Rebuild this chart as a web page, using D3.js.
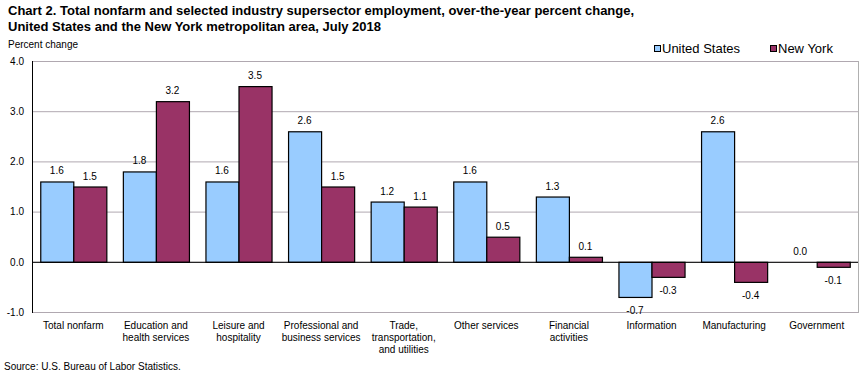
<!DOCTYPE html>
<html>
  <head>
    <meta charset="utf-8">
    <script src="https://d3js.org/d3.v7.min.js"></script>
    <style>
      body { margin: 0; background: #fff; }
      text { font-family: "Liberation Sans", Arial, sans-serif; fill: #000; }
    </style>
  </head>
  <body>
    <div id="chart"></div>
    <script>
      // Data
      const categories = [
        ["Total nonfarm"],
        ["Education and", "health services"],
        ["Leisure and", "hospitality"],
        ["Professional and", "business services"],
        ["Trade,", "transportation,", "and utilities"],
        ["Other services"],
        ["Financial", "activities"],
        ["Information"],
        ["Manufacturing"],
        ["Government"]
      ];
      const unitedStates = [1.6, 1.8, 1.6, 2.6, 1.2, 1.6, 1.3, -0.7, 2.6, 0.0];
      const newYork = [1.5, 3.2, 3.5, 1.5, 1.1, 0.5, 0.1, -0.3, -0.4, -0.1];
      const seriesNames = ["United States", "New York"];
      const colors = ["#99ccff", "#993366"];
      const yTicks = [-1, 0, 1, 2, 3, 4];

      const W = 861, H = 372;
      const margin = { left: 32, right: 858, top: 61, bottom: 312 };

      // plain hyphen for negatives, one decimal
      const fmt = v => v.toFixed(1);

      const svg = d3.select("#chart").append("svg")
        .attr("width", W).attr("height", H);

      // Title
      svg.append("text").attr("x", 8).attr("y", 15)
        .style("font-size", "13px").style("font-weight", "bold")
        .text("Chart 2. Total nonfarm and selected industry supersector employment, over-the-year percent change,");
      svg.append("text").attr("x", 8).attr("y", 31)
        .style("font-size", "13px").style("font-weight", "bold")
        .text("United States and the New York metropolitan area, July 2018");
      svg.append("text").attr("x", 8).attr("y", 48)
        .style("font-size", "10px").text("Percent change");

      // Scales
      const x0 = d3.scaleBand().domain(d3.range(categories.length))
        .range([margin.left, margin.right]);
      const x = d3.scaleBand().domain(d3.range(categories.length))
        .range([margin.left, margin.right]).paddingInner(0.2).paddingOuter(0.1);
      const y = d3.scaleLinear().domain([-1, 4]).range([margin.bottom, margin.top]);
      const xs = d3.scaleBand().domain([0, 1]).range([0, x.bandwidth()]);

      // Grid lines
      svg.append("g").selectAll("line").data(yTicks).join("line")
        .attr("x1", margin.left).attr("x2", margin.right)
        .attr("y1", d => y(d) + 0.5).attr("y2", d => y(d) + 0.5)
        .attr("stroke", "#b0a8b0").attr("stroke-width", 1);
      svg.append("line").attr("x1", margin.right + 0.5).attr("x2", margin.right + 0.5)
        .attr("y1", margin.top).attr("y2", margin.bottom + 1).attr("stroke", "#b0b0b0");

      // Y axis
      const yAxis = svg.append("g").attr("transform", `translate(${margin.left},0)`)
        .call(d3.axisLeft(y).tickValues(yTicks).tickFormat(fmt).tickSize(0).tickPadding(8));
      yAxis.select(".domain").remove();
      yAxis.selectAll("text").style("font-size", "10px").style("font-family", "Liberation Sans, Arial, sans-serif");
      svg.append("line").attr("x1", margin.left + 0.5).attr("x2", margin.left + 0.5)
        .attr("y1", margin.top).attr("y2", margin.bottom + 1).attr("stroke", "#000");

      // Bars
      const rows = categories.map((c, i) => [unitedStates[i], newYork[i]]);
      const groups = svg.append("g").selectAll("g").data(rows).join("g")
        .attr("transform", (d, i) => `translate(${x(i)},0)`);
      groups.selectAll("rect").data(d => d.map((v, s) => ({ v, s }))).join("rect")
        .attr("x", d => xs(d.s) + 0.5)
        .attr("y", d => Math.min(y(d.v), y(0)) + 0.5)
        .attr("width", xs.bandwidth())
        .attr("height", d => Math.abs(y(d.v) - y(0)))
        .attr("fill", d => colors[d.s])
        .attr("stroke", "#000").attr("stroke-width", d => d.v === 0 ? 0 : 1.2);

      // Zero line
      svg.append("line").attr("x1", margin.left).attr("x2", margin.right)
        .attr("y1", y(0) + 0.5).attr("y2", y(0) + 0.5).attr("stroke", "#000");

      // Value labels
      groups.selectAll("text.val").data(d => d.map((v, s) => ({ v, s }))).join("text")
        .attr("class", "val")
        .attr("x", d => xs(d.s) + xs.bandwidth() / 2)
        .attr("y", d => d.v >= 0 ? y(d.v) - 7 : y(d.v) + 17)
        .attr("text-anchor", "middle")
        .style("font-size", "10px")
        .text(d => fmt(d.v));

      // Category labels
      svg.append("g").selectAll("text").data(categories).join("text")
        .attr("text-anchor", "middle")
        .style("font-size", "10px")
        .attr("transform", (d, i) => `translate(${x0(i) + x0.bandwidth() / 2},${margin.bottom + 17})`)
        .selectAll("tspan").data(d => d).join("tspan")
        .attr("x", 0).attr("dy", (d, j) => j === 0 ? 0 : 12)
        .text(d => d);

      // Legend
      const legend = svg.append("g").selectAll("g").data(seriesNames).join("g")
        .attr("transform", (d, i) => `translate(${[654, 770][i]},45)`);
      legend.append("rect").attr("x", 0.5).attr("y", 0.5).attr("width", 6).attr("height", 6)
        .attr("fill", (d, i) => colors[i]).attr("stroke", "#000");
      legend.append("text").attr("x", 8).attr("y", 8)
        .style("font-size", "13px").text(d => d);

      // Source
      svg.append("text").attr("x", 4).attr("y", 370)
        .style("font-size", "10px").text("Source: U.S. Bureau of Labor Statistics.");
    </script>
  </body>
</html>
